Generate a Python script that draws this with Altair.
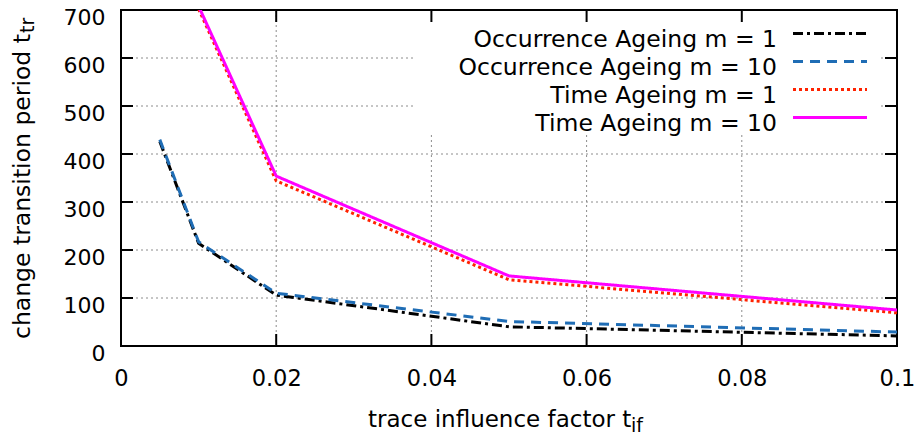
import altair as alt
import pandas as pd

# ---- data ----
x_occ = [0.005, 0.01, 0.02, 0.05, 0.1]
occ_m1 = [426, 214, 106, 40, 21]
occ_m10 = [430, 217, 110, 51, 29]
x_time = [0.01, 0.02, 0.05, 0.1]
time_m1 = [702, 344, 138, 69]
time_m10 = [708, 354, 146, 75]
series_names = ["Occurrence Ageing m = 1", "Occurrence Ageing m = 10",
                "Time Ageing m = 1", "Time Ageing m = 10"]
x_ticks = [0, 0.02, 0.04, 0.06, 0.08, 0.1]
y_ticks = [0, 100, 200, 300, 400, 500, 600, 700]
x_grid = [0.02, 0.04, 0.06, 0.08]
y_grid = [100, 200, 300, 400, 500, 600]
x_title = ["trace influence factor t", "if"]
y_title = ["change transition period t", "tr"]

W, H = 776, 336
FONT = "DejaVu Sans"

xs = alt.Scale(domain=[0, 0.1], nice=False, zero=False)
ys = alt.Scale(domain=[0, 700], nice=False, zero=False)
xaxis = alt.Axis(values=x_ticks, format="~g", title=None, grid=False, ticks=False,
                 domain=False, labelPadding=21, labelFontSize=22.5, labelFont=FONT,
                 labelColor="black", labelFlush=False, labelOverlap=False)
yaxis = alt.Axis(values=y_ticks, format="d", title=None, grid=False, ticks=False,
                 domain=False, labelPadding=16, labelFontSize=22, labelFont=FONT,
                 labelColor="black", labelOffset=7.5, labelFlush=False, labelOverlap=False)


def X(f):
    return alt.X(f, type="quantitative", scale=xs, axis=xaxis)


def Y(f):
    return alt.Y(f, type="quantitative", scale=ys, axis=yaxis)


one = pd.DataFrame({"a": [0]})


def label(txt, x, y, size, align="left", angle=0):
    kw = dict(align=align, baseline="alphabetic", fontSize=size, font=FONT, color="black")
    if angle:
        kw["angle"] = angle
    return alt.Chart(pd.DataFrame({"lab": [txt]})).mark_text(**kw).encode(
        text=alt.Text("lab:N"), x=alt.value(x), y=alt.value(y))


layers = []

# grid lines (dotted grey)
gx = alt.Chart(pd.DataFrame({"gx": x_grid})).mark_rule(
    color="#8c8c8c", strokeWidth=1, strokeDash=[2, 3]).encode(
    x=X("gx"), y=alt.value(0), y2=alt.value(H))
gy = alt.Chart(pd.DataFrame({"gy": y_grid})).mark_rule(
    color="#8c8c8c", strokeWidth=1, strokeDash=[2, 3]).encode(
    y=Y("gy"), x=alt.value(0), x2=alt.value(W))
layers += [gx, gy]

# opaque legend box
layers.append(alt.Chart(one).mark_rect(color="white").encode(
    x=alt.value(293), x2=alt.value(759), y=alt.value(1.5), y2=alt.value(123)))

styles = [
    dict(color="#000000", strokeDash=[10, 4, 3, 4]),
    dict(color="#1f6db5", strokeDash=[10, 7]),
    dict(color="#ff2200", strokeDash=[3, 3]),
    dict(color="#ff00ff", strokeDash=[1, 0]),
]
series = [(x_occ, occ_m1), (x_occ, occ_m10), (x_time, time_m1), (x_time, time_m10)]
for (xv, yv), st, name in zip(series, styles, series_names):
    df = pd.DataFrame({"x": xv, "y": yv, "s": name})
    layers.append(alt.Chart(df).mark_line(clip=True, strokeWidth=3, **st).encode(
        x=X("x"), y=Y("y")))

# inward ticks on all four sides
tx = pd.DataFrame({"tx": x_ticks})
ty = pd.DataFrame({"ty": y_ticks})
tick_kw = dict(color="black", strokeWidth=2)
layers.append(alt.Chart(tx).mark_rule(**tick_kw).encode(x=X("tx"), y=alt.value(H), y2=alt.value(H - 12)))
layers.append(alt.Chart(tx).mark_rule(**tick_kw).encode(x=X("tx"), y=alt.value(0), y2=alt.value(12)))
layers.append(alt.Chart(ty).mark_rule(**tick_kw).encode(y=Y("ty"), x=alt.value(0), x2=alt.value(12)))
layers.append(alt.Chart(ty).mark_rule(**tick_kw).encode(y=Y("ty"), x=alt.value(W), x2=alt.value(W - 12)))

# legend entries (label on the left, sample on the right)
text_y = [37, 65, 93, 121]
sample_y = [23.5, 51.5, 79.5, 107.5]
for name, st, ty_, sy in zip(series_names, styles, text_y, sample_y):
    layers.append(label(name, 656, ty_, 23.5, align="right"))
    layers.append(alt.Chart(one).mark_rule(strokeWidth=3, **st).encode(
        x=alt.value(672), x2=alt.value(746), y=alt.value(sy)))

# axis titles with subscripts
layers.append(label(x_title[0], 247, 417, 23))
layers.append(label(x_title[1], 510, 422, 19))
layers.append(label(y_title[0], -91.5, 329, 23.5, angle=270))
layers.append(label(y_title[1], -87.5, 23, 19, angle=270))

chart = alt.layer(*layers).properties(
    width=W, height=H,
    padding={"left": 113, "top": 2, "right": 17, "bottom": 91},
    autosize=alt.AutoSizeParams(type="none"),
    background="white",
).configure(font=FONT).configure_view(stroke="black", strokeWidth=2)

chart.save("out.html", embed_options={"renderer": "svg", "actions": False})
